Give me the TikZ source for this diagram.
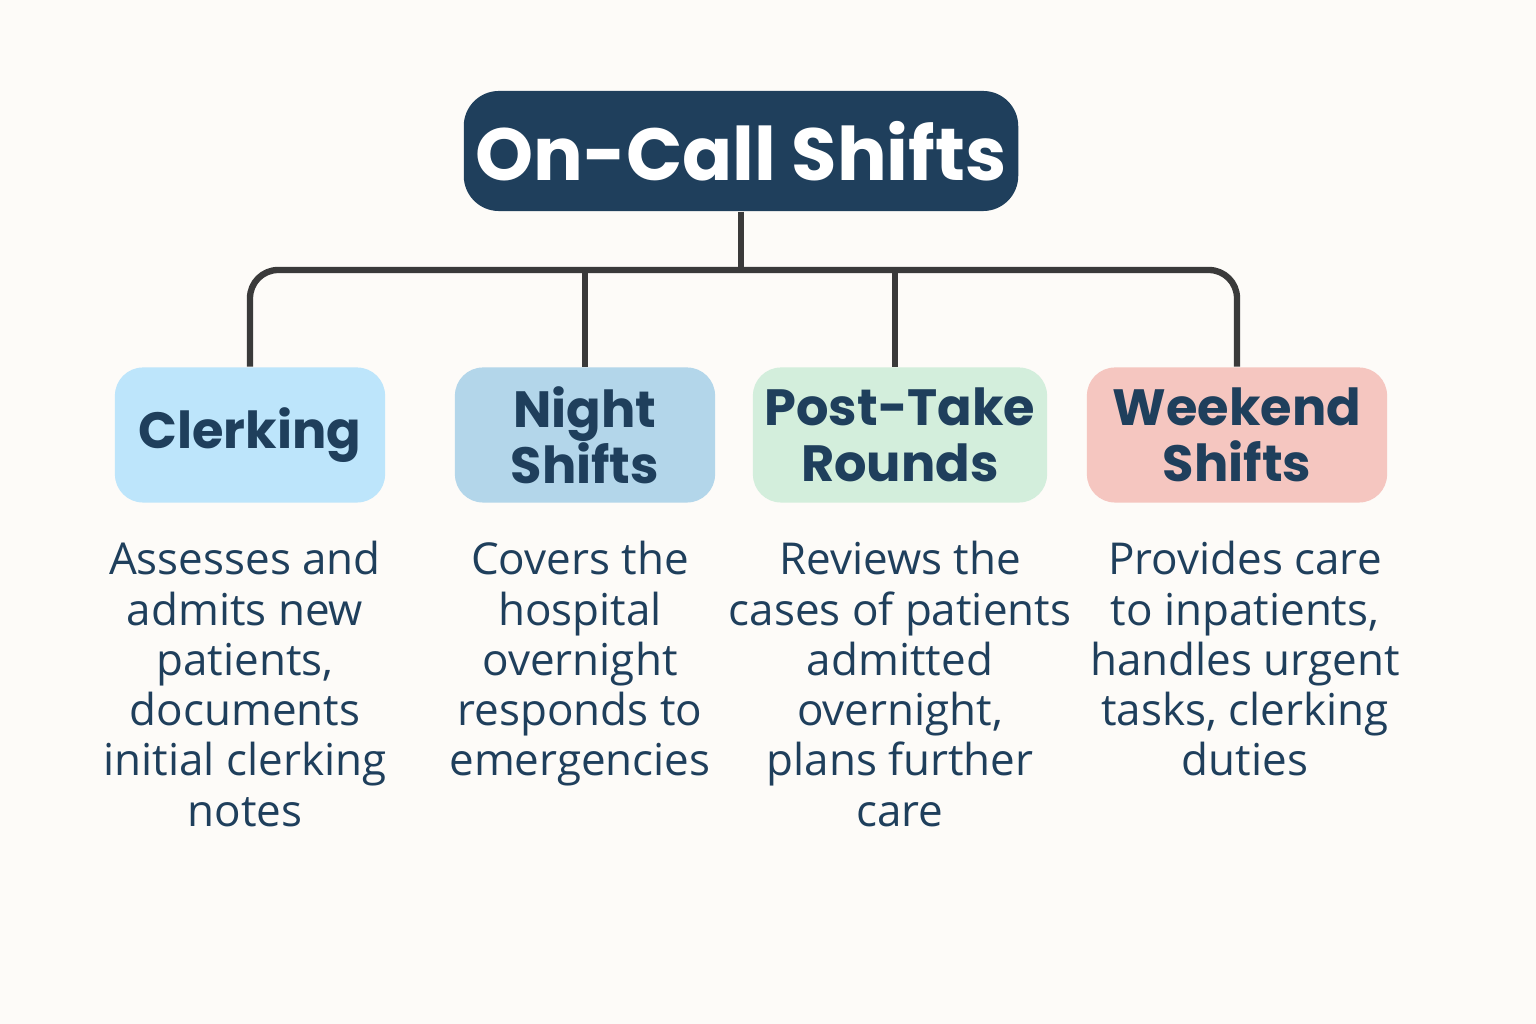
\documentclass[tikz,border=0pt]{standalone}
\usepackage{fontspec}
\setmainfont{Open Sans}
\newfontfamily\headfont{Poppins}
\definecolor{bgcol}{HTML}{FDFBF8}
\definecolor{navy}{HTML}{1F3F5C}
\definecolor{clerkcol}{HTML}{BDE5FB}
\definecolor{nightcol}{HTML}{B3D6EA}
\definecolor{postcol}{HTML}{D3EEDC}
\definecolor{weekcol}{HTML}{F5C6C0}
\definecolor{linecol}{HTML}{3A3A3A}
\tikzset{
  shiftbox/.style={rounded corners=8pt, minimum width=#1, minimum height=1.35cm,
    align=center, text=navy, font=\headfont\fontsize{14.5}{16}\selectfont\bfseries},
  desc/.style={align=center, text=navy, anchor=north,
    font=\fontsize{12.5}{14.3}\selectfont},
  link/.style={linecol, line width=1.8pt, rounded corners=8pt}
}
\begin{document}
\begin{tikzpicture}[x=0.01cm, y=0.01cm]
\fill[bgcol] (0,0) rectangle (1536,1024);
\useasboundingbox (0,0) rectangle (1536,1024);

\node[fill=navy, rounded corners=10pt, minimum width=5.5cm, minimum height=1.2cm,
  text=white, font=\headfont\fontsize{21}{24}\selectfont\bfseries] (title) at (741,873) {On-Call Shifts};

\node[shiftbox=2.7cm, fill=clerkcol] (clerk) at (250,589) {Clerking};
\node[shiftbox=2.6cm, fill=nightcol] (night) at (585,589) {Night\\Shifts};
\node[shiftbox=2.8cm, fill=postcol] (post) at (900,589) {Post-Take\\Rounds};
\node[shiftbox=3.0cm, fill=weekcol] (week) at (1237,589) {Weekend\\Shifts};

\coordinate (hub) at (741,754);
\draw[link] (title.south) -- (hub);
\draw[link] (clerk.north) |- (hub) -| (week.north);
\draw[link] (night.north) -- (night.north |- hub);
\draw[link] (post.north) ++(-5,0) -- ++(0,97);

\node[desc] (clerkd) at (245,495) {Assesses and\\admits new\\patients,\\documents\\initial clerking\\notes};
\node[desc] (nightd) at (580,495) {Covers the\\hospital\\overnight\\responds to\\emergencies};
\node[desc] (postd) at (900,495) {Reviews the\\cases of patients\\admitted\\overnight,\\plans further\\care};
\node[desc] (weekd) at (1245,495) {Provides care\\to inpatients,\\handles urgent\\tasks, clerking\\duties};
\end{tikzpicture}
\end{document}
